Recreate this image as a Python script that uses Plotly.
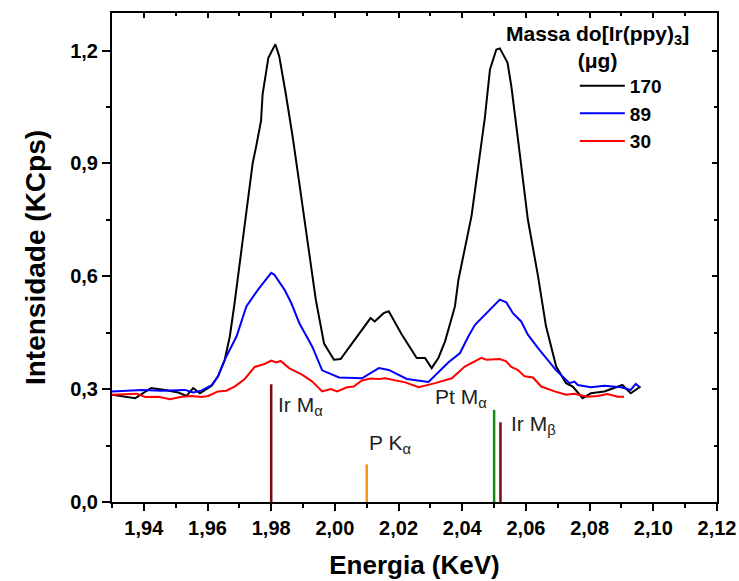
import plotly.graph_objects as go

# ---------------- data ----------------
x_170 = [1.9300, 1.9373, 1.9423, 1.9467, 1.9508, 1.9534, 1.9555, 1.9576, 1.9613, 1.9633,
         1.9654, 1.9670, 1.9685, 1.9700, 1.9721, 1.9742, 1.9752, 1.9768, 1.9773, 1.9791,
         1.9813, 1.9825, 1.9846, 1.9867, 1.9888, 1.9908, 1.9929, 1.9940, 1.9966, 1.9997,
         2.0018, 2.0112, 2.0125, 2.0153, 2.0169, 2.0210, 2.0257, 2.0283, 2.0304, 2.0325,
         2.0346, 2.0377, 2.0388, 2.0429, 2.0471, 2.0487, 2.0507, 2.0518, 2.0542, 2.0554,
         2.0575, 2.0606, 2.0638, 2.0663, 2.0695, 2.0726, 2.0747, 2.0778, 2.0804, 2.0846,
         2.0903, 2.0929, 2.0960]
y_170 = [0.285, 0.276, 0.303, 0.298, 0.291, 0.282, 0.303, 0.289, 0.309, 0.334,
         0.378, 0.440, 0.529, 0.626, 0.756, 0.902, 0.942, 1.013, 1.084, 1.181,
         1.217, 1.186, 1.084, 0.973, 0.849, 0.724, 0.600, 0.538, 0.421, 0.378,
         0.380, 0.489, 0.480, 0.502, 0.507, 0.445, 0.383, 0.383, 0.356, 0.383,
         0.427, 0.520, 0.591, 0.760, 1.022, 1.150, 1.203, 1.206, 1.168, 1.106,
         0.964, 0.751, 0.600, 0.467, 0.360, 0.316, 0.307, 0.276, 0.289, 0.294,
         0.311, 0.289, 0.307]

x_89 = [1.9300, 1.9394, 1.9456, 1.9529, 1.9555, 1.9581, 1.9613, 1.9633, 1.9659, 1.9691,
        1.9722, 1.9758, 1.9800, 1.9810, 1.9842, 1.9863, 1.9888, 1.9929, 1.9960, 2.0013,
        2.0085, 2.0138, 2.0169, 2.0226, 2.0294, 2.0356, 2.0393, 2.0419, 2.0440, 2.0518,
        2.0538, 2.0559, 2.0585, 2.0606, 2.0638, 2.0695, 2.0737, 2.0752, 2.0763, 2.0804,
        2.0846, 2.0898, 2.0929, 2.0945, 2.0955]
y_89 = [0.294, 0.298, 0.296, 0.298, 0.291, 0.296, 0.311, 0.334, 0.387, 0.440,
        0.520, 0.564, 0.609, 0.604, 0.564, 0.529, 0.476, 0.413, 0.350, 0.331,
        0.329, 0.356, 0.351, 0.327, 0.319, 0.371, 0.396, 0.440, 0.471, 0.538,
        0.531, 0.502, 0.480, 0.445, 0.409, 0.350, 0.316, 0.320, 0.311, 0.305,
        0.309, 0.305, 0.298, 0.314, 0.307]

x_30 = [1.9300, 1.9378, 1.9404, 1.9446, 1.9482, 1.9519, 1.9550, 1.9581, 1.9602, 1.9633,
        1.9659, 1.9685, 1.9717, 1.9748, 1.9779, 1.9800, 1.9815, 1.9830, 1.9856, 1.9877,
        1.9898, 1.9929, 1.9960, 1.9987, 2.0007, 2.0038, 2.0059, 2.0085, 2.0112, 2.0138,
        2.0158, 2.0221, 2.0263, 2.0315, 2.0367, 2.0408, 2.0434, 2.0460, 2.0476, 2.0518,
        2.0538, 2.0554, 2.0575, 2.0596, 2.0622, 2.0648, 2.0690, 2.0726, 2.0752, 2.0794,
        2.0825, 2.0856, 2.0888, 2.0908]
y_30 = [0.285, 0.288, 0.279, 0.280, 0.273, 0.280, 0.282, 0.279, 0.282, 0.294,
        0.296, 0.307, 0.327, 0.359, 0.367, 0.376, 0.371, 0.375, 0.356, 0.347,
        0.338, 0.320, 0.294, 0.300, 0.294, 0.305, 0.307, 0.323, 0.328, 0.327,
        0.329, 0.318, 0.305, 0.316, 0.329, 0.360, 0.371, 0.383, 0.378, 0.380,
        0.374, 0.359, 0.351, 0.334, 0.331, 0.307, 0.294, 0.285, 0.288, 0.280,
        0.282, 0.287, 0.280, 0.280]

series_names = ["170", "89", "30"]

# characteristic emission lines
line_labels = ["Ir M<sub>α</sub>", "P K<sub>α</sub>", "Pt M<sub>α</sub>", "Ir M<sub>β</sub>"]
line_energy = [1.980, 2.010, 2.050, 2.052]
line_height = [0.313, 0.100, 0.245, 0.212]

x_tickvals = [1.94, 1.96, 1.98, 2.00, 2.02, 2.04, 2.06, 2.08, 2.10, 2.12]
y_tickvals = [0.0, 0.3, 0.6, 0.9, 1.2]

# ---------------- style ----------------
FONT = "Arial, Liberation Sans, sans-serif"
series_colors = ["#000000", "#0000FF", "#FF0000"]
line_colors = ["#7A0A0A", "#F7941D", "#1A8A1A", "#7A0A0A"]
# label placement (pixels relative to the top of each emission line)
lab_xanchor = ["left", "left", "right", "left"]
lab_xshift = [5, 0, -5, 9]
lab_yshift = [-22, 20, 12, -3]

fig = go.Figure()
for xs, ys, name, col in zip([x_170, x_89, x_30], [y_170, y_89, y_30], series_names, series_colors):
    fig.add_trace(go.Scatter(x=xs, y=ys, mode="lines", name=name,
                             line=dict(color=col, width=2)))

for e, h, col in zip(line_energy, line_height, line_colors):
    fig.add_trace(go.Scatter(x=[e, e], y=[0, h], mode="lines", showlegend=False,
                             line=dict(color=col, width=2.5), hoverinfo="skip"))

# dummy trace for the mirrored (top/right) axes
fig.add_trace(go.Scatter(x=[None], y=[None], xaxis="x2", yaxis="y2",
                         showlegend=False, hoverinfo="skip"))

for lab, e, h, xa, xs_, ys_ in zip(line_labels, line_energy, line_height,
                                   lab_xanchor, lab_xshift, lab_yshift):
    fig.add_annotation(x=e, y=h, text=lab, showarrow=False, xanchor=xa, yanchor="middle",
                       xshift=xs_, yshift=ys_,
                       font=dict(family=FONT, size=21, color="#222222"))

# legend title
fig.add_annotation(xref="paper", yref="paper", x=0.802, y=0.985, xanchor="center", yanchor="top",
                   text="Massa do[Ir(ppy)<sub>3</sub>]<br>(μg)", showarrow=False, align="center",
                   font=dict(family=FONT, size=21, color="black", weight="bold"))

XR = [1.93, 2.12]
YR = [0.0, 1.3]
axis_common = dict(showline=True, linecolor="black", linewidth=2, tickcolor="black",
                   tickwidth=2, showgrid=False, zeroline=False, automargin=False)

fig.update_layout(
    width=739, height=581,
    margin=dict(l=112, r=22, t=13, b=79, autoexpand=False),
    paper_bgcolor="white", plot_bgcolor="white",
    separators=",.",
    font=dict(family=FONT, color="black"),
    showlegend=True,
    legend=dict(x=0.765, y=0.89, xanchor="left", yanchor="top", bgcolor="rgba(0,0,0,0)",
                font=dict(family=FONT, size=19, color="black", weight="bold"),
                itemwidth=45, tracegroupgap=0),
    xaxis=dict(range=XR, tickvals=x_tickvals, tickformat=".2f", ticks="outside", ticklen=7,
               minor=dict(dtick=0.01, tick0=1.93, ticks="outside", ticklen=4, tickwidth=2, tickcolor="black"),
               tickfont=dict(family=FONT, size=20, weight="bold"),
               title=dict(text="Energia (KeV)", standoff=18,
                          font=dict(family=FONT, size=26, weight="bold")),
               **axis_common),
    yaxis=dict(range=YR, tickvals=y_tickvals, tickformat=".1f", ticks="outside", ticklen=8,
               minor=dict(dtick=0.15, tick0=0, ticks="outside", ticklen=4, tickwidth=2, tickcolor="black"),
               tickfont=dict(family=FONT, size=20, weight="bold"),
               title=dict(text="Intensidade (KCps)", standoff=16,
                          font=dict(family=FONT, size=28, weight="bold")),
               **axis_common),
    xaxis2=dict(range=XR, overlaying="x", side="top", tickvals=x_tickvals, ticks="inside",
                ticklen=5, showticklabels=False,
                minor=dict(dtick=0.01, tick0=1.93, ticks="inside", ticklen=3, tickwidth=1.5, tickcolor="black"),
                **axis_common),
    yaxis2=dict(range=YR, overlaying="y", side="right", tickvals=y_tickvals, ticks="inside",
                ticklen=5, showticklabels=False,
                minor=dict(dtick=0.15, tick0=0, ticks="inside", ticklen=3, tickwidth=1.5, tickcolor="black"),
                **axis_common),
)

fig.write_html("out.html")
